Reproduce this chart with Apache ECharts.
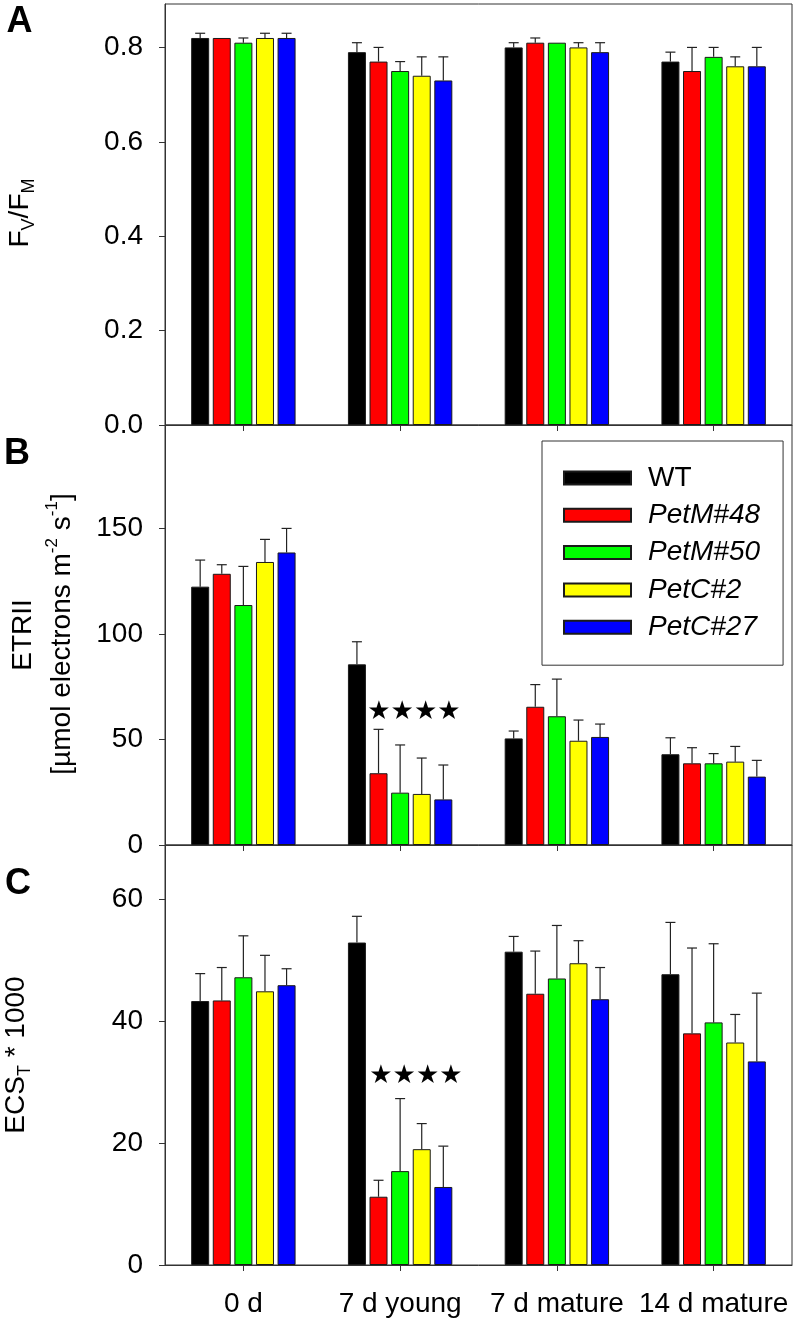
<!DOCTYPE html>
<html><head><meta charset="utf-8">
<script src="https://cdn.jsdelivr.net/npm/echarts@6/dist/echarts.min.js"></script>
<style>html,body{margin:0;padding:0;background:#fff}#c{width:797px;height:1322px}</style>
</head><body><div id="c"></div>
<script>
// ---------- data ----------
const categories = ['0 d', '7 d young', '7 d mature', '14 d mature'];
const seriesNames = ['WT', 'PetM#48', 'PetM#50', 'PetC#2', 'PetC#27'];
const colors = ['#000000', '#ff0000', '#00ff00', '#ffff00', '#0000ff'];

// Panel A: Fv/Fm
const fvfmWT  = [0.82, 0.79, 0.80, 0.77];
const fvfmM48 = [0.82, 0.77, 0.81, 0.75];
const fvfmM50 = [0.81, 0.75, 0.81, 0.78];
const fvfmC2  = [0.82, 0.74, 0.80, 0.76];
const fvfmC27 = [0.82, 0.73, 0.79, 0.76];
const fvfmErrWT  = [0.01, 0.02, 0.01, 0.02];
const fvfmErrM48 = [0.00, 0.03, 0.01, 0.05];
const fvfmErrM50 = [0.01, 0.02, 0.00, 0.02];
const fvfmErrC2  = [0.01, 0.04, 0.01, 0.02];
const fvfmErrC27 = [0.01, 0.05, 0.02, 0.04];
const fvfmTicks = [0, 0.2, 0.4, 0.6, 0.8];

// Panel B: ETRII
const etrWT  = [122.4, 85.6, 50.5, 43.0];
const etrM48 = [128.5, 34.0, 65.5, 38.7];
const etrM50 = [113.7, 24.8, 61.0, 38.7];
const etrC2  = [134.1, 24.2, 49.4, 39.5];
const etrC27 = [138.6, 21.6, 51.2, 32.4];
const etrErrWT  = [12.6, 10.7, 3.5, 7.8];
const etrErrM48 = [4.3, 20.8, 10.5, 7.4];
const etrErrM50 = [18.3, 22.6, 17.6, 4.6];
const etrErrC2  = [10.7, 17.0, 9.8, 7.2];
const etrErrC27 = [11.4, 16.3, 6.1, 7.7];
const etrTicks = [0, 50, 100, 150];

// Panel C: ECS_T * 1000
const ecsWT  = [43.3, 52.9, 51.4, 47.7];
const ecsM48 = [43.4, 11.2, 44.5, 38.0];
const ecsM50 = [47.2, 15.4, 47.0, 39.8];
const ecsC2  = [44.9, 19.0, 49.5, 36.5];
const ecsC27 = [45.9, 12.8, 43.6, 33.4];
const ecsErrWT  = [4.5, 4.3, 2.5, 8.5];
const ecsErrM48 = [5.4, 2.7, 7.0, 14.0];
const ecsErrM50 = [6.8, 11.9, 8.7, 12.9];
const ecsErrC2  = [5.9, 4.2, 3.7, 4.6];
const ecsErrC27 = [2.7, 6.7, 5.2, 11.2];
const ecsTicks = [0, 20, 40, 60];

// significance stars
const starCategory = '7 d young';
const starYB = 63;
const starYC = 31;

// ---------- layout / style ----------
const FONT = '"Liberation Sans", Arial, sans-serif';
const BAR_W = 18, BAR_GAP = 0.2, CAP = 10;
const AX = '#333';

const panels = [
  { vals: [fvfmWT, fvfmM48, fvfmM50, fvfmC2, fvfmC27],
    errs: [fvfmErrWT, fvfmErrM48, fvfmErrM50, fvfmErrC2, fvfmErrC27],
    ticks: fvfmTicks, max: 0.892, interval: 0.2, top: 4, height: 421,
    fmt: v => v.toFixed(1) },
  { vals: [etrWT, etrM48, etrM50, etrC2, etrC27],
    errs: [etrErrWT, etrErrM48, etrErrM50, etrErrC2, etrErrC27],
    ticks: etrTicks, max: 199, interval: 50, top: 425, height: 420,
    fmt: v => String(v), star: starYB, starOff: 57 },
  { vals: [ecsWT, ecsM48, ecsM50, ecsC2, ecsC27],
    errs: [ecsErrWT, ecsErrM48, ecsErrM50, ecsErrC2, ecsErrC27],
    ticks: ecsTicks, max: 68.9, interval: 20, top: 845, height: 420,
    fmt: v => String(v), star: starYC, starOff: 59 }
];

function renderErr(params, api) {
  const ci = api.value(0), si = api.value(1), v = api.value(2), e = api.value(3);
  if (!(e > 0)) return null;
  const base = api.coord([ci, v]);
  const tp = api.coord([ci, v + e]);
  const x = base[0] + (si - 2) * BAR_W * (1 + BAR_GAP);
  const style = { stroke: '#222', lineWidth: 1.2 };
  return { type: 'group', children: [
    { type: 'line', shape: { x1: x, y1: base[1], x2: x, y2: tp[1] }, style },
    { type: 'line', shape: { x1: x - CAP / 2, y1: tp[1], x2: x + CAP / 2, y2: tp[1] }, style }
  ]};
}

const grid = [], xAxis = [], yAxis = [], series = [];
panels.forEach((p, pi) => {
  grid.push({ left: 165, width: 627, top: p.top, height: p.height, show: true,
    borderColor: AX, borderWidth: 1, backgroundColor: 'transparent' });
  xAxis.push({ type: 'category', gridIndex: pi, data: categories,
    axisLine: { lineStyle: { color: AX, width: 1 } },
    axisTick: { show: true, alignWithLabel: true, length: 6, lineStyle: { color: AX } },
    axisLabel: { show: pi === 2, interval: 0, hideOverlap: false, fontSize: 28, color: '#000',
      fontFamily: FONT, margin: 25 },
    splitLine: { show: false } });
  yAxis.push({ type: 'value', gridIndex: pi, min: 0, max: p.max, interval: p.interval,
    axisLine: { show: true, lineStyle: { color: AX, width: 1 } },
    axisTick: { show: true, length: 6, lineStyle: { color: AX }, customValues: p.ticks },
    axisLabel: { fontSize: 28, color: '#000', fontFamily: FONT, margin: 22,
      customValues: p.ticks, formatter: p.fmt },
    splitLine: { show: false } });
  p.vals.forEach((arr, si) => {
    const s = { type: 'bar', name: seriesNames[si], xAxisIndex: pi, yAxisIndex: pi,
      data: arr, barWidth: BAR_W, barGap: (BAR_GAP * 100) + '%',
      itemStyle: { color: colors[si], borderColor: '#1a1a1a', borderWidth: 1 },
      emphasis: { disabled: true }, animation: false };
    if (si === 0 && p.star != null) {
      s.markPoint = { symbol: 'rect', symbolSize: 1, animation: false,
        itemStyle: { color: 'rgba(0,0,0,0)' },
        label: { show: true, position: 'inside', formatter: '★★★★', fontSize: 26,
          color: '#000', fontFamily: 'DejaVu Sans', offset: [p.starOff, 0] },
        data: [{ coord: [starCategory, p.star] }] };
    }
    series.push(s);
  });
  const errData = [];
  p.vals.forEach((arr, si) => arr.forEach((v, ci) => errData.push([ci, si, v, p.errs[si][ci]])));
  series.push({ type: 'custom', xAxisIndex: pi, yAxisIndex: pi, renderItem: renderErr,
    data: errData, encode: { x: 0, y: 2 }, silent: true, animation: false, z: 5 });
});

const titleRich = {
  sub: { fontSize: 18, fontFamily: FONT, color: '#000', padding: [18, 0, 0, 0] },
  sup: { fontSize: 17, fontFamily: FONT, color: '#000', padding: [0, 0, 20, 0] }
};
function vText(x, y, text) {
  return { type: 'text', x, y, rotation: Math.PI / 2,
    style: { text, fontSize: 28, fontFamily: FONT, fill: '#000',
      align: 'center', verticalAlign: 'middle', rich: titleRich } };
}
function letter(x, y, t) {
  return { type: 'text', x, y, style: { text: t, fontSize: 36, fontWeight: 'bold',
    fontFamily: FONT, fill: '#000', align: 'center', verticalAlign: 'middle' } };
}

const option = {
  backgroundColor: '#fff',
  animation: false,
  grid, xAxis, yAxis, series,
  legend: {
    data: seriesNames, orient: 'vertical', left: 542, top: 441,
    padding: [23, 23, 24, 21], itemGap: 9.3, itemWidth: 67, itemHeight: 13,
    borderColor: AX, borderWidth: 1, backgroundColor: '#fff', icon: 'rect',
    selectedMode: false,
    formatter: n => n === 'WT' ? '{n|' + n + '}' : '{i|' + n + '}',
    textStyle: { fontSize: 28, fontFamily: FONT, color: '#000',
      rich: {
        n: { fontSize: 28, fontFamily: FONT, color: '#000', padding: [0, 0, 0, 12] },
        i: { fontSize: 28, fontFamily: FONT, color: '#000', fontStyle: 'italic', padding: [0, 0, 0, 12] }
      } }
  },
  graphic: [
    letter(19.5, 22.5, 'A'),
    letter(17, 454, 'B'),
    letter(18, 884, 'C'),
    vText(20, 213, 'F{sub|V}/F{sub|M}'),
    vText(23, 635, 'ETRII'),
    vText(62, 634, '[µmol electrons m{sup|-2} s{sup|-1}]'),
    vText(16, 1055, 'ECS{sub|T} * 1000')
  ]
};

const chart = echarts.init(document.getElementById('c'), null, { renderer: 'canvas' });
chart.setOption(option);
</script>
</body></html>
